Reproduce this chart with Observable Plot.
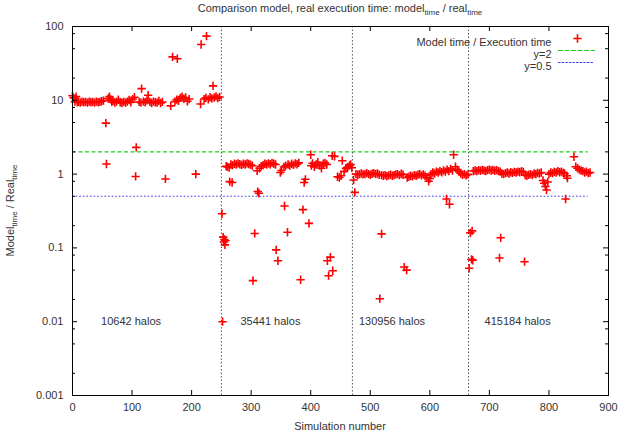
<!DOCTYPE html>
<html>
<head>
<meta charset="utf-8">
<script src="https://cdn.jsdelivr.net/npm/d3@7"></script>
<script src="https://cdn.jsdelivr.net/npm/@observablehq/plot@0.6"></script>
<style>
  html, body { margin: 0; padding: 0; background: white; }
  svg { display: block; }
</style>
</head>
<body>
<div id="chart"></div>
<script>
// ---- data: [simulation number, model time / real time] ----
const runs10642 = [
  [0,11.5],[2,10.8],[4,9.6],[6,11.2],[8,9.4],[10,9.5],[13,9.3],[16,9.6],[19,9.4],[22,9.5],[25,9.3],[28,9.6],[31,9.4],[34,9.5],[37,9.3],[40,9.6],[43,9.4],[46,9.5],[49,9.7],[52,9.9],
  [56,4.9],[57,1.37],
  [60,10.6],[62,11.2],[64,10.3],[66,9.5],[68,9.8],[71,9.3],[74,9.6],[77,10.2],[80,9.4],[83,9.2],[86,9.5],[89,9.3],[92,9.6],[95,10.1],[98,9.4],[101,10.4],[104,11.0],
  [107,2.3],[106,0.93],
  [112,9.5],[115,9.3],[116,14.4],[119,9.6],[122,9.4],[125,10.0],[127,11.7],[130,9.5],[133,9.2],[136,9.6],[139,9.4],[142,9.3],[145,9.8],[148,9.2],[151,9.5],
  [156,0.86],
  [165,8.4],[168,38.8],[172,9.6],[176,36.6],[175,10.2],[178,9.8],[181,10.8],[184,11.2],[187,10.5],[190,10.9],[193,9.7],[196,10.4],
  [207,1.0],
  [215,8.9],[216,57],[221,10.4],[224,10.8],[225,74],[228,10.3],[231,11.0],[234,10.6],[236,15.7],[238,10.9],[241,11.3],[244,10.7],[247,11.1]
];
const runs35441 = [
  [251,0.29],[252,0.01],[253,0.14],[254,0.12],[255,0.13],[256,0.11],[257,0.125],
  [258,1.28],[260,1.25],[263,1.23],[264,0.79],[266,1.35],[268,0.77],[269,1.32],[272,1.38],[275,1.35],[278,1.4],[281,1.36],[284,1.33],[287,1.38],[290,1.35],[293,1.4],[296,1.37],[299,1.34],[302,1.3],
  [303,0.036],[306,0.157],[310,1.11],[311,0.58],[313,0.55],
  [314,1.2],[317,1.28],[320,1.32],[323,1.38],[326,1.35],[329,1.4],[332,1.36],[335,1.42],[338,1.38],[341,1.35],
  [342,0.094],[345,0.067],[349,1.05],[351,1.12],
  [355,1.25],[356,0.37],[358,1.3],[361,0.163],[362,1.35],[365,1.3],[368,1.38],[371,1.33],[374,1.4],[377,1.36],[380,1.42],
  [383,0.037],[387,0.33],[389,0.77],[391,0.85],[397,0.215],
  [400,1.83],[401,1.3],[403,1.4],[406,1.25],[409,1.35],[412,1.45],[415,1.3],[418,1.2],[421,1.38],[424,1.42],[427,1.35],
  [428,0.067],[430,0.042],[433,0.075],[437,0.049],
  [436,1.77],[440,1.74],[445,0.92],[448,0.9],[451,0.95],[453,1.52],[456,1.09],[459,1.2],[462,1.25],[465,1.3],[467,1.35],[469,1.22]
];
const runs130956 = [
  [472,0.83],[474,0.565],
  [476,1.0],[479,0.98],[482,1.0],[485,1.02],[488,0.99],[491,1.0],[494,1.03],[497,1.0],[500,0.98],[503,1.01],[506,1.03],[509,1.0],[512,1.02],[515,0.98],
  [516,0.0205],[519,0.155],
  [519,0.97],[522,0.95],[525,0.97],[528,0.94],[531,0.96],[534,0.98],[537,0.95],[540,0.97],[543,0.99],[546,1.0],[549,0.97],[552,1.01],[555,0.98],
  [557,0.055],[561,0.05],
  [562,0.9],[565,0.92],[568,0.95],[571,0.93],[574,0.97],[577,0.95],[580,0.98],[583,1.0],[586,0.96],[589,0.99],[592,0.95],[595,0.9],[598,0.8],[600,0.87],
  [602,1.0],[605,1.05],[608,1.02],[611,1.08],[614,1.05],[617,1.1],[620,1.06],[623,1.12],[626,1.08],[629,1.15],[632,1.1],[635,1.18],[638,1.12],
  [628,0.46],[633,0.39],
  [640,1.83],[643,1.26],[646,1.15],[649,1.08],[652,1.02],[655,0.98],[658,1.0],[661,0.96],[664,0.99]
];
const runs415184 = [
  [666,0.053],[668,0.16],[670,0.07],[671,0.17],[672,0.068],
  [673,1.1],[676,1.12],[679,1.1],[682,1.13],[685,1.11],[688,1.14],[691,1.12],[694,1.1],[697,1.13],[700,1.15],[703,1.12],[706,1.14],[709,1.11],[712,1.13],[715,1.1],[718,1.08],
  [717,0.073],[719,0.137],
  [721,1.02],[724,1.0],[727,1.03],[730,1.05],[733,1.02],[736,1.06],[739,1.04],[742,1.07],[745,1.05],[748,1.08],[751,1.06],[754,1.1],[757,1.07],
  [759,0.065],
  [760,0.97],[763,0.95],[766,0.98],[769,1.0],[772,0.97],[775,1.02],[778,1.0],[781,1.04],[784,1.02],[787,1.05],
  [790,0.82],[792,0.75],[794,0.68],[796,0.61],[798,0.78],
  [800,1.0],[803,1.05],[806,1.03],[809,1.07],[812,1.05],[815,1.1],[818,1.06],[821,1.08],[824,1.04],[826,1.02],
  [828,0.46],[830,0.95],[831,0.88],
  [842,1.72],[845,1.26],[848,1.2],[851,1.15],[854,1.12],[857,1.1],[860,1.05],[863,1.08],[866,1.03],[869,1.05]
];

const sectionBounds = [250, 470, 665];
const haloLabels = ["10642 halos", "35441 halos", "130956 halos", "415184 halos"];
const haloLabelX = [48, 282, 481, 692];
const haloLabelY = 0.01;
const refLevels = [2, 0.5];
const refNames = ["y=2", "y=0.5"];
const refColors = ["#1ecc1e", "#3c3cf0"];
const refDash = ["4,2.5", "1.6,2"];
const refRange = [0, 866];
const xTicks = [0, 100, 200, 300, 400, 500, 600, 700, 800, 900];
const yTicks = [0.001, 0.01, 0.1, 1, 10, 100];
const yTickLabels = ["0.001", "0.01", "0.1", "1", "10", "100"];
const yMinorMult = [2, 5, 8];

// ---- build ----
const points = [...runs10642, ...runs35441, ...runs130956, ...runs415184].map(([sim, ratio]) => ({sim, ratio}));
const yMinor = yTicks.slice(0, -1).flatMap(p => yMinorMult.map(m => p * m));
const refs = refLevels.map((y, i) => ({y, name: refNames[i], color: refColors[i], dash: refDash[i], x1: refRange[0], x2: refRange[1]}));
const halos = haloLabels.map((t, i) => ({t, x: haloLabelX[i], y: haloLabelY}));

const W = 621, H = 436, mL = 72, mR = 13, mT = 26, mB = 41;
const pw = W - mL - mR, ph = H - mT - mB;
const major = 5, minor = 3;
const font = "'Liberation Sans', Arial, Helvetica, sans-serif";
const lineShape = {draw(context, l) { context.moveTo(0, 0); context.lineTo(0, -l); }};
const dotR = 2.8, dotW = 1.6;

const chart = Plot.plot({
  width: W, height: H,
  marginLeft: mL, marginRight: mR, marginTop: mT, marginBottom: mB,
  style: {fontFamily: font, fontSize: "11px", color: "#333", background: "white", overflow: "visible"},
  x: {domain: [0, 900], label: null},
  y: {type: "log", domain: [0.001, 100], label: null},
  marks: [
    // reference lines
    ...refs.map(r => Plot.ruleY([r], {y: "y", x1: "x1", x2: "x2", stroke: r.color, strokeWidth: 1.1, strokeDasharray: r.dash})),
    // section separators
    Plot.ruleX(sectionBounds, {x: d => d, stroke: "#555", strokeWidth: 1, strokeDasharray: "1.5,2"}),
    // data points
    Plot.dot(points, {x: "sim", y: "ratio", symbol: "plus", r: dotR, stroke: "#ff0000", strokeWidth: dotW}),
    // halo labels
    Plot.text(halos, {x: "x", y: "y", text: "t", textAnchor: "start", fill: "#333", fontSize: 11}),
    // axes labels (ticks drawn separately, inward)
    Plot.axisX(xTicks, {anchor: "bottom", tickSize: 0, tickPadding: 8, tickFormat: d => String(d), label: null, fill: "#333"}),
    Plot.axisY(yTicks, {anchor: "left", tickSize: 0, tickPadding: 9, tickFormat: d => yTickLabels[yTicks.indexOf(d)], label: null, fill: "#333"}),
    // inward ticks
    Plot.ruleX(xTicks, {x: d => d, insetTop: ph - major, stroke: "black"}),
    Plot.ruleX(xTicks, {x: d => d, insetBottom: ph - major, stroke: "black"}),
    Plot.ruleY(yTicks, {y: d => d, insetRight: pw - major, stroke: "black"}),
    Plot.ruleY(yTicks, {y: d => d, insetLeft: pw - major, stroke: "black"}),
    Plot.ruleY(yMinor, {y: d => d, insetRight: pw - minor, stroke: "black"}),
    Plot.ruleY(yMinor, {y: d => d, insetLeft: pw - minor, stroke: "black"}),
    Plot.frame({stroke: "black", strokeWidth: 1}),
    // legend (inside top right)
    Plot.text(["Model time / Execution time"], {frameAnchor: "top-right", dx: -57, dy: 12, textAnchor: "end", fill: "#333", fontSize: 11}),
    Plot.dot([0], {frameAnchor: "top-right", dx: -31, dy: 12, symbol: "plus", r: dotR, stroke: "#ff0000", strokeWidth: dotW}),
    ...refs.map((r, i) => Plot.text([r.name], {frameAnchor: "top-right", dx: -57, dy: 24 + 12 * i, textAnchor: "end", fill: "#333", fontSize: 11})),
    ...refs.map((r, i) => Plot.vector([0], {frameAnchor: "top-right", dx: -50, dy: 24 + 12 * i, rotate: 90, length: 36, anchor: "start", shape: lineShape, stroke: r.color, strokeWidth: 1.1, strokeDasharray: r.dash}))
  ]
});

// title and y-axis label with subscripts
const svg = d3.select(chart);
const title = svg.append("text")
  .attr("x", mL + pw / 2).attr("y", 12).attr("text-anchor", "middle")
  .attr("font-family", font).attr("font-size", 11).attr("fill", "#333");
title.append("tspan").text("Comparison model, real execution time: model");
title.append("tspan").attr("font-size", 8).attr("dy", 3).text("time");
title.append("tspan").attr("dy", -3).text(" / real");
title.append("tspan").attr("font-size", 8).attr("dy", 3).text("time");

const ylab = svg.append("text")
  .attr("transform", `translate(14,${mT + ph / 2}) rotate(-90)`)
  .attr("text-anchor", "middle")
  .attr("font-family", font).attr("font-size", 11).attr("fill", "#333");
ylab.append("tspan").text("Model");
ylab.append("tspan").attr("font-size", 8).attr("dy", 3).text("time");
ylab.append("tspan").attr("dy", -3).text(" / Real");
ylab.append("tspan").attr("font-size", 8).attr("dy", 3).text("time");

svg.append("text")
  .attr("x", mL + pw / 2).attr("y", H - 6).attr("text-anchor", "middle")
  .attr("font-family", font).attr("font-size", 11).attr("fill", "#333")
  .text("Simulation number");

document.getElementById("chart").appendChild(chart);
</script>
</body>
</html>
